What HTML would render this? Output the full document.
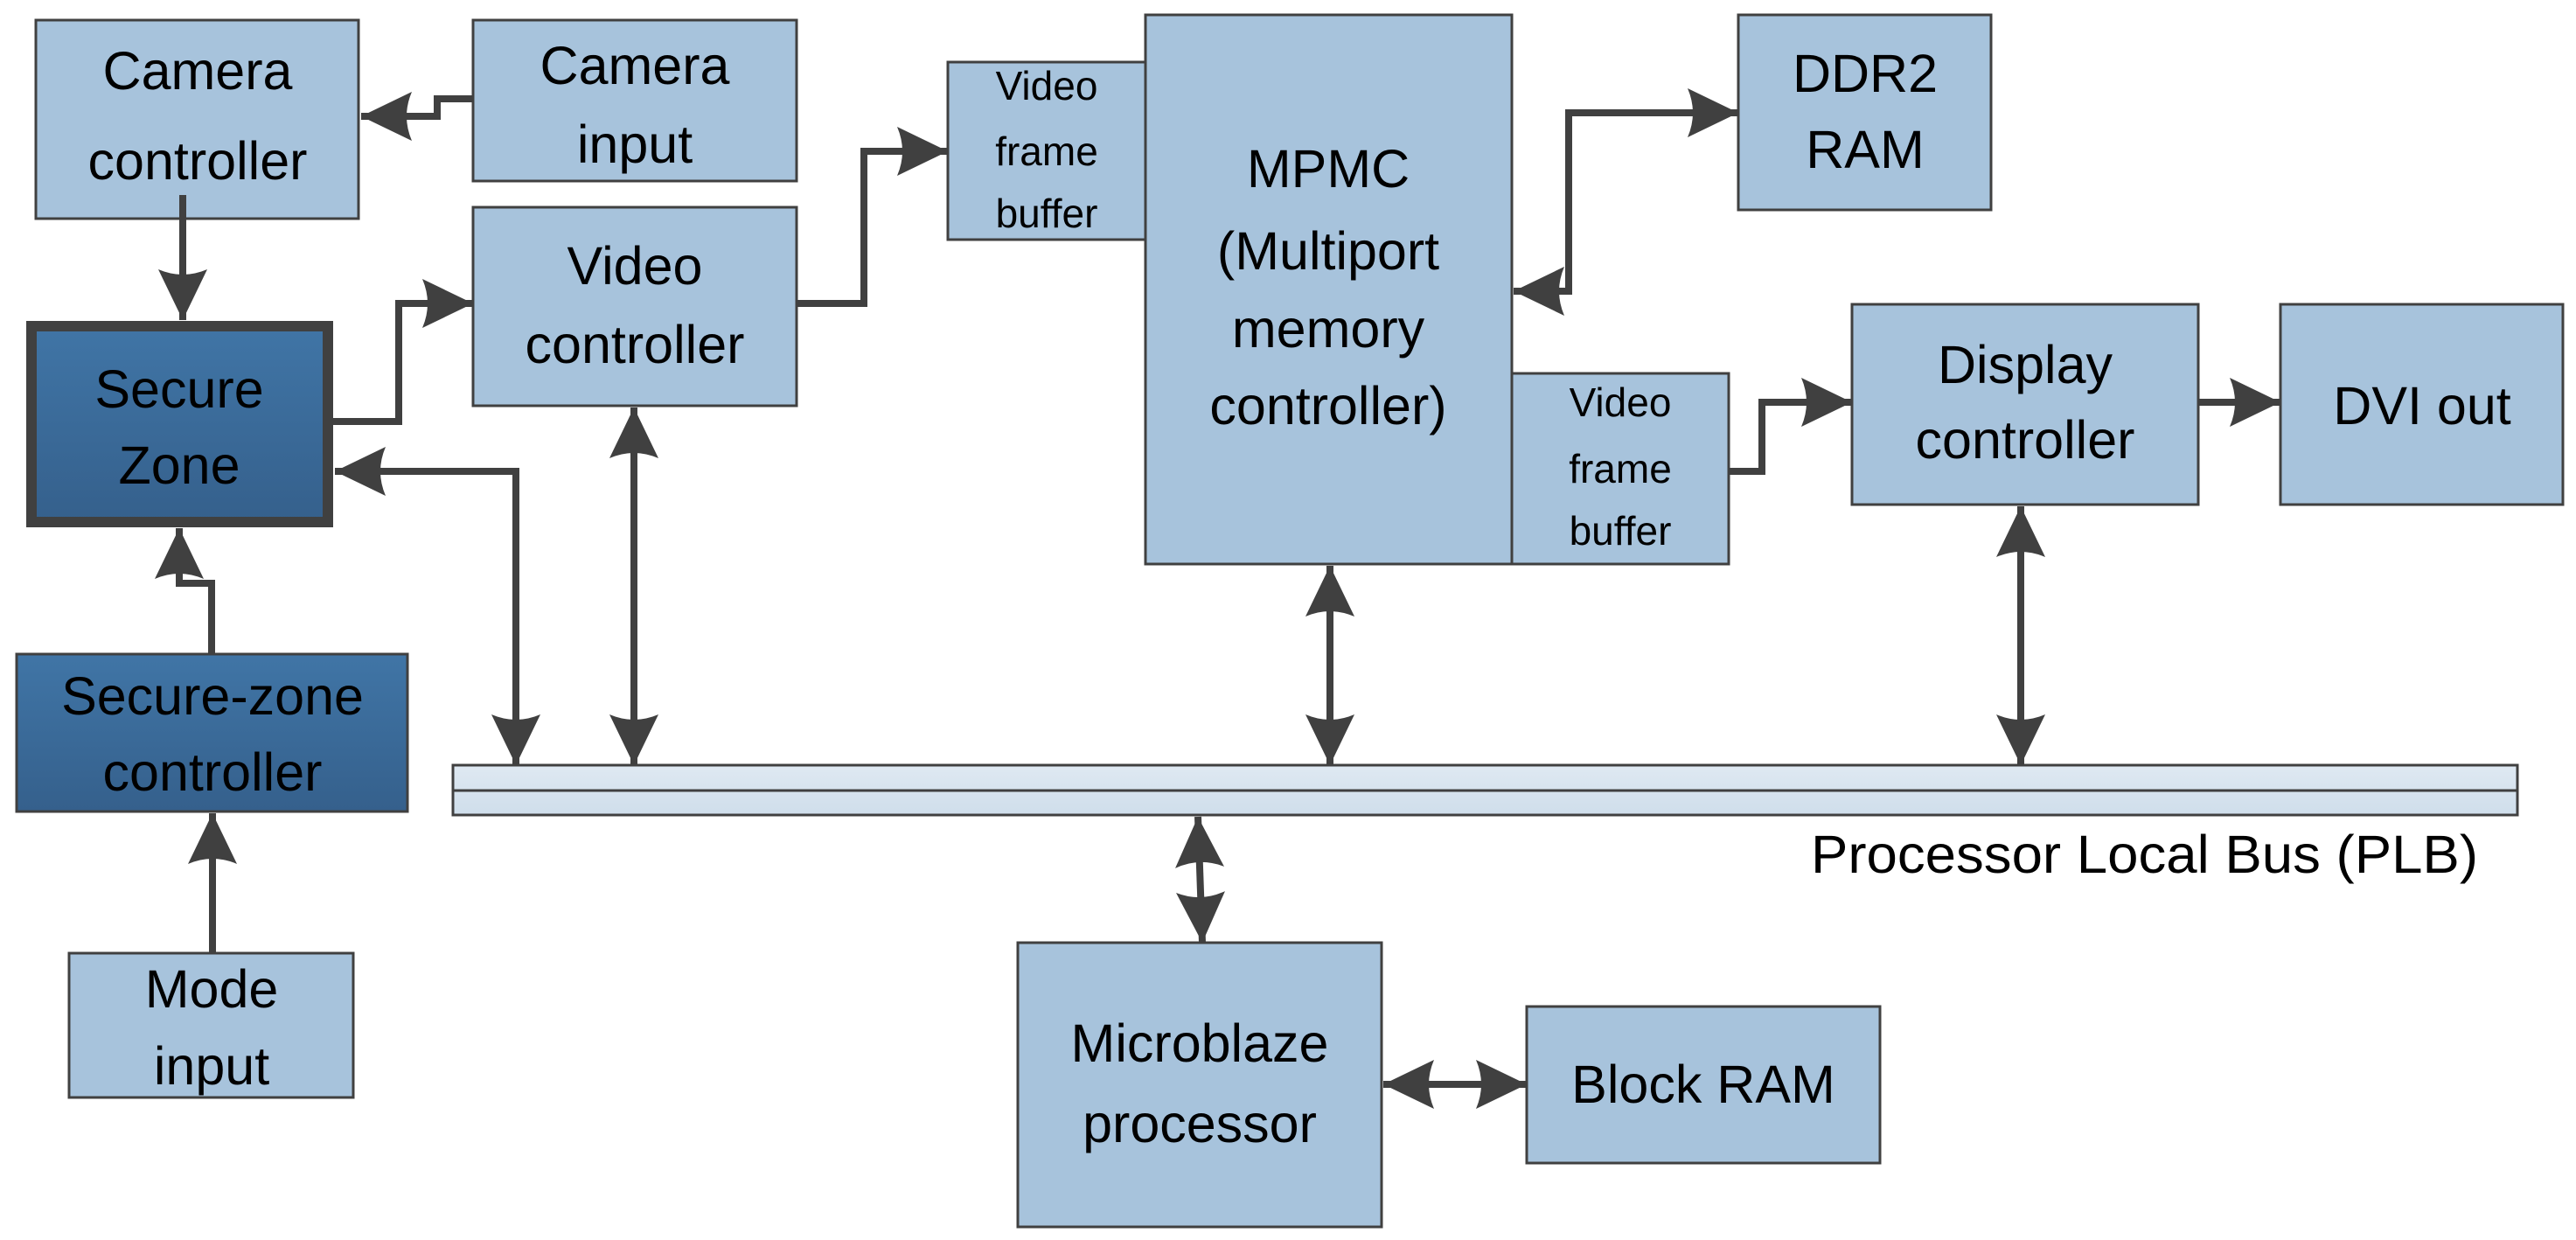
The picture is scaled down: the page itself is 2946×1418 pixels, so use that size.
<!DOCTYPE html>
<html><head><meta charset="utf-8"><style>
html,body{margin:0;padding:0;background:#fff;}
svg{display:block;}
text{font-family:"Liberation Sans",sans-serif;fill:#000;text-anchor:middle;}
.b{fill:#a7c3dc;stroke:#404040;stroke-width:3;}
.l{fill:none;stroke:#404040;stroke-width:8;}
.t{font-size:61px;}
.s{font-size:46px;}
</style></head><body>
<svg width="2946" height="1418" viewBox="0 0 2946 1418" xmlns="http://www.w3.org/2000/svg">
<defs>
<linearGradient id="dk" x1="0" y1="0" x2="0" y2="1"><stop offset="0" stop-color="#4075a6"/><stop offset="1" stop-color="#35608c"/></linearGradient>
<linearGradient id="bus" x1="0" y1="0" x2="0" y2="1"><stop offset="0" stop-color="#dfe9f2"/><stop offset="1" stop-color="#cfdeeb"/></linearGradient>
<marker id="a" markerUnits="userSpaceOnUse" markerWidth="70" markerHeight="70" viewBox="0 -35 70 70" refX="60" refY="0" orient="auto-start-reverse">
<path d="M60,0 L2,-28 Q14,0 2,28 Z" fill="#404040"/>
</marker>
</defs>

<rect class="b" x="41" y="23" width="369" height="227"/>
<rect class="b" x="541" y="23" width="370" height="184"/>
<rect class="b" x="541" y="237" width="370" height="227"/>
<rect x="36" y="373" width="339" height="224" fill="url(#dk)" stroke="#404040" stroke-width="12"/>
<rect x="19" y="748" width="447" height="180" fill="url(#dk)" stroke="#404040" stroke-width="3"/>
<rect class="b" x="79" y="1090" width="325" height="165"/>
<rect class="b" x="1084" y="71" width="226" height="203"/>
<rect class="b" x="1310" y="17" width="419" height="628"/>
<rect class="b" x="1988" y="17" width="289" height="223"/>
<rect class="b" x="1729" y="427" width="248" height="218"/>
<rect class="b" x="2118" y="348" width="396" height="229"/>
<rect class="b" x="2608" y="348" width="323" height="229"/>
<rect x="518" y="875" width="2361" height="57" fill="url(#bus)" stroke="#404040" stroke-width="3"/>
<line x1="518" y1="904" x2="2879" y2="904" stroke="#404040" stroke-width="3"/>
<rect class="b" x="1164" y="1078" width="416" height="325"/>
<rect class="b" x="1746" y="1151" width="404" height="179"/>

<polyline class="l" points="541,113 500,113 500,133 413,133" marker-end="url(#a)"/>
<polyline class="l" points="209,223 209,366" marker-end="url(#a)"/>
<polyline class="l" points="381,482 456,482 456,347 541,347" marker-end="url(#a)"/>
<polyline class="l" points="383,539 590,539 590,875" marker-start="url(#a)" marker-end="url(#a)"/>
<polyline class="l" points="725,466 725,875" marker-start="url(#a)" marker-end="url(#a)"/>
<polyline class="l" points="242,748 242,667 205,667 205,604" marker-end="url(#a)"/>
<polyline class="l" points="243,1090 243,930" marker-end="url(#a)"/>
<polyline class="l" points="911,347 988,347 988,173 1084,173" marker-end="url(#a)"/>
<polyline class="l" points="1731,333 1794,333 1794,129 1988,129" marker-start="url(#a)" marker-end="url(#a)"/>
<polyline class="l" points="1977,539 2015,539 2015,460 2118,460" marker-end="url(#a)"/>
<polyline class="l" points="2514,460 2608,460" stroke-width="12" marker-end="url(#a)"/>
<polyline class="l" points="1521,647 1521,875" marker-start="url(#a)" marker-end="url(#a)"/>
<polyline class="l" points="2311,579 2311,875" marker-start="url(#a)" marker-end="url(#a)"/>
<polyline class="l" points="1370,934 1375,1078" marker-start="url(#a)" marker-end="url(#a)"/>
<polyline class="l" points="1582,1240 1746,1240" stroke-width="12" marker-start="url(#a)" marker-end="url(#a)"/>

<text class="t" x="226" y="102">Camera</text><text class="t" x="226" y="205">controller</text>
<text class="t" x="726" y="96">Camera</text><text class="t" x="726" y="186">input</text>
<text class="t" x="726" y="325">Video</text><text class="t" x="726" y="415">controller</text>
<text class="t" x="205" y="466">Secure</text><text class="t" x="205" y="553">Zone</text>
<text class="t" x="243" y="817">Secure-zone</text><text class="t" x="243" y="904">controller</text>
<text class="t" x="242" y="1152">Mode</text><text class="t" x="242" y="1240">input</text>
<text class="s" x="1197" y="114">Video</text><text class="s" x="1197" y="189">frame</text><text class="s" x="1197" y="260">buffer</text>
<text class="t" x="1519" y="214">MPMC</text><text class="t" x="1519" y="308">(Multiport</text><text class="t" x="1519" y="397">memory</text><text class="t" x="1519" y="485">controller)</text>
<text class="t" x="2133" y="105">DDR2</text><text class="t" x="2133" y="192">RAM</text>
<text class="s" x="1853" y="476">Video</text><text class="s" x="1853" y="552">frame</text><text class="s" x="1853" y="623">buffer</text>
<text class="t" x="2316" y="438">Display</text><text class="t" x="2316" y="524">controller</text>
<text class="t" x="2770" y="485">DVI out</text>
<text class="t" x="1372" y="1214">Microblaze</text><text class="t" x="1372" y="1306">processor</text>
<text class="t" x="1948" y="1261">Block RAM</text>
<text class="t" x="2071" y="998" style="text-anchor:start" textLength="763" lengthAdjust="spacingAndGlyphs">Processor Local Bus (PLB)</text>
</svg>
</body></html>
